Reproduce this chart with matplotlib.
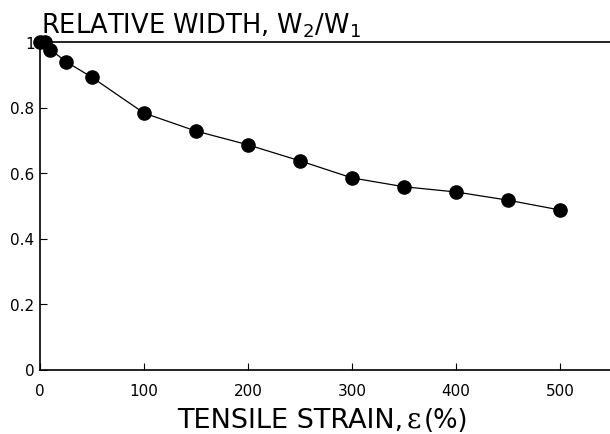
import matplotlib
matplotlib.use("Agg")
import matplotlib.pyplot as plt

strain = [0, 5, 10, 25, 50, 100, 150, 200, 250, 300, 350, 400, 450, 500]
rel_width = [1.0, 1.0, 0.977, 0.94, 0.892, 0.783, 0.728, 0.686, 0.637, 0.585, 0.558, 0.542, 0.517, 0.487]
xticks = [0, 100, 200, 300, 400, 500]
yticks = [0, 0.2, 0.4, 0.6, 0.8, 1]
ytick_labels = ["0", "0.2", "0.4", "0.6", "0.8", "1"]

plt.rcParams['font.family'] = ['DejaVu Sans']
plt.rcParams['mathtext.fontset'] = 'custom'
plt.rcParams['mathtext.rm'] = 'DejaVu Sans'
plt.rcParams['mathtext.it'] = 'DejaVu Sans'

W, H = 610, 435
fig = plt.figure(figsize=(6.1, 4.35), dpi=100)
ax = fig.add_axes([40/W, 1 - 370.5/H, 570/W, (370.5-43)/H])

ax.plot(strain, rel_width, color='black', lw=0.9, zorder=2)
ax.plot(strain, rel_width, 'o', color='black', ms=9.5, zorder=3, clip_on=False)

ax.set_xlim(0, 548)
ax.set_ylim(0, 1)
ax.set_xticks(xticks)
ax.set_yticks(yticks)
ax.set_yticklabels(ytick_labels)
ax.tick_params(direction='in', length=5, width=0.8, labelsize=11, colors='black')
ax.tick_params(axis='x', pad=10)
ax.tick_params(axis='y', pad=4)
ax.spines['right'].set_visible(False)
for s in ['left', 'bottom', 'top']:
    ax.spines[s].set_linewidth(1.2)

fig.text(41/W, 1 - 33/H, r"RELATIVE WIDTH, W$_{2}$/W$_{1}$", fontsize=18.5,
         ha='left', va='baseline')
fig.text(403/W, 1 - 428/H, "TENSILE STRAIN,", fontsize=19.5, ha='right', va='baseline')
fig.text(407/W, 1 - 428/H, "ε", fontsize=20, ha='left', va='baseline',
         family=['DejaVu Serif'], fontweight='light')
fig.text(424/W, 1 - 428/H, "(%)", fontsize=18.5, ha='left', va='baseline')

fig.savefig("out.png", dpi=100)
